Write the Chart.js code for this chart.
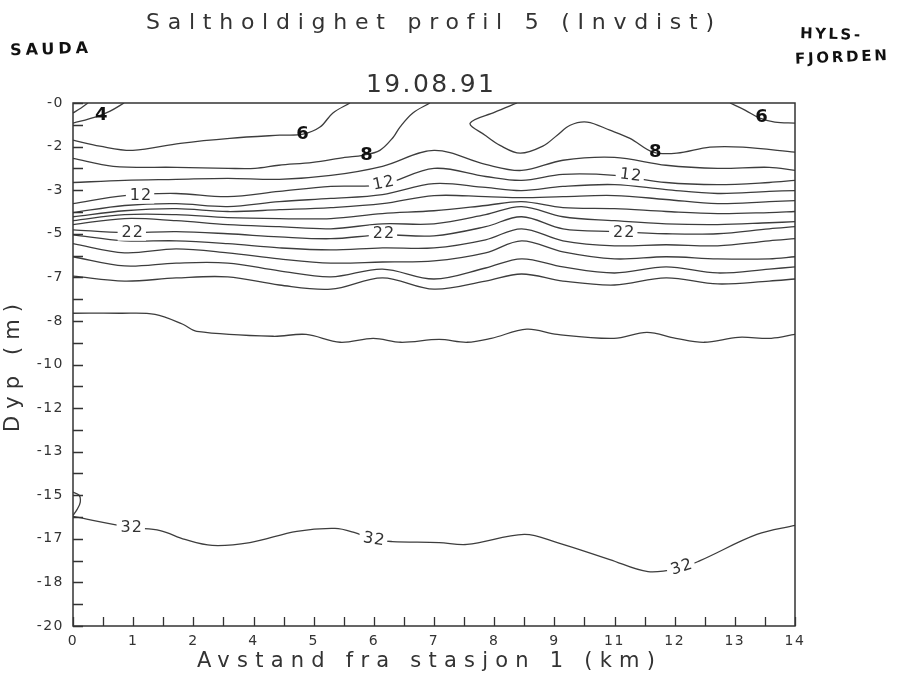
<!DOCTYPE html>
<html>
<head>
<meta charset="utf-8">
<title>Saltholdighet profil 5</title>
<script src="https://cdn.jsdelivr.net/npm/chart.js@4.4.1/dist/chart.umd.min.js"></script>
<style>
  body { margin: 0; background: #fff; }
  #wrap { width: 904px; height: 679px; position: relative; }
</style>
</head>
<body>
<div id="wrap"><canvas id="saltChart"></canvas></div>
<script>
//---------------------------------------------- DATA ---------------------------------------------------
// distance along the section (km) used by the layered contours 10..30
const gridKm = [0, 1, 2, 3, 4, 5, 6, 7, 8, 8.7, 9.5, 10.5, 11.5, 12.5, 13.5, 14];

// depth (m) of each isohaline at gridKm
const s10 = [3.04, 2.96, 2.92, 2.88, 2.92, 2.77, 2.42, 1.81, 2.35, 2.58, 2.19, 2.08, 2.38, 2.5, 2.46, 2.58];
const s12 = [3.85, 3.54, 3.46, 3.58, 3.38, 3.19, 3.12, 2.5, 2.81, 2.96, 2.73, 2.77, 3.04, 3.12, 3.04, 2.96];
const s14 = [4.19, 3.92, 3.85, 3.96, 3.77, 3.65, 3.5, 3.08, 3.23, 3.35, 3.19, 3.12, 3.31, 3.46, 3.38, 3.35];
const s16 = [4.35, 4.12, 4.04, 4.15, 4.08, 4.0, 3.85, 3.54, 3.58, 3.62, 3.58, 3.54, 3.69, 3.85, 3.77, 3.73];
const s18 = [4.5, 4.27, 4.27, 4.38, 4.42, 4.42, 4.23, 4.12, 3.92, 3.77, 4.0, 4.04, 4.15, 4.23, 4.19, 4.15];
const s20 = [4.65, 4.42, 4.5, 4.65, 4.73, 4.81, 4.62, 4.62, 4.27, 3.96, 4.35, 4.5, 4.62, 4.65, 4.58, 4.54];
const s22 = [4.85, 4.96, 4.92, 5.0, 5.12, 5.19, 5.04, 5.08, 4.73, 4.35, 4.81, 4.92, 5.0, 5.0, 4.81, 4.73];
const s24 = [5.04, 5.27, 5.27, 5.38, 5.54, 5.62, 5.54, 5.54, 5.23, 4.81, 5.27, 5.46, 5.42, 5.46, 5.27, 5.19];
const s26 = [5.38, 5.73, 5.58, 5.73, 5.96, 6.12, 6.08, 6.04, 5.73, 5.27, 5.69, 5.96, 5.88, 5.96, 5.96, 5.88];
const s28 = [5.88, 6.23, 6.12, 6.12, 6.42, 6.65, 6.35, 6.73, 6.31, 5.96, 6.27, 6.5, 6.27, 6.5, 6.35, 6.27];
const s30 = [6.62, 6.81, 6.69, 6.65, 6.96, 7.12, 6.69, 7.12, 6.81, 6.54, 6.81, 6.96, 6.69, 6.92, 6.81, 6.73];

// contours that run into the surface or the edges keep their own km positions
const s2Km = [0, 0.15, 0.29];
const s2Dep = [0.38, 0.2, 0];
const s4Km = [0, 0.43, 0.72, 0.99];
const s4Dep = [0.77, 0.54, 0.31, 0];
const s6aKm = [0, 0.52, 1.16, 2.08, 3.04, 4.01, 4.46, 4.79, 5.04, 5.37];
const s6aDep = [1.42, 1.65, 1.81, 1.54, 1.35, 1.23, 1.19, 0.92, 0.38, 0];
const s6bKm = [12.74, 13.03, 13.32, 13.61, 14];
const s6bDep = [0, 0.27, 0.58, 0.73, 0.77];
const s8aKm = [0, 0.78, 2.0, 3.01, 3.53, 3.99, 4.65, 5.27, 5.62, 5.95, 6.21, 6.34, 6.59, 6.92];
const s8aDep = [2.12, 2.42, 2.46, 2.5, 2.5, 2.38, 2.27, 2.08, 2.0, 1.81, 1.31, 0.92, 0.38, 0];
const s8bKm = [8.61, 8.18, 7.7, 7.99, 8.28, 8.67, 9.11, 9.39, 9.64, 9.97, 10.41, 10.8, 11.25, 11.71, 12.35, 12.99, 14];
const s8bDep = [0, 0.35, 0.77, 1.23, 1.62, 1.92, 1.65, 1.23, 0.85, 0.73, 1.04, 1.35, 1.88, 1.92, 1.69, 1.69, 1.88];
const s31Km = [0, 0.91, 1.59, 2.13, 2.4, 3.88, 4.52, 5.18, 5.82, 6.36, 7.1, 7.64, 8.11, 8.8, 9.39, 10.49, 11.13, 11.69, 12.24, 12.9, 13.54, 14];
const s31Dep = [8.04, 8.04, 8.08, 8.46, 8.73, 8.92, 8.85, 9.15, 9.0, 9.15, 9.04, 9.15, 9.0, 8.65, 8.85, 9.0, 8.77, 9.0, 9.15, 8.96, 9.0, 8.85];
const hookKm = [0, 0.12, 0.14, 0.08, 0];
const hookDep = [14.88, 15.0, 15.27, 15.54, 15.77];
const s32Km = [0, 1.12, 1.69, 2.17, 2.7, 3.43, 4.34, 5.08, 5.45, 5.82, 6.19, 7.1, 7.64, 8.75, 9.39, 10.41, 11.15, 11.79, 12.16, 13.26, 14];
const s32Dep = [15.81, 16.23, 16.35, 16.69, 16.92, 16.81, 16.38, 16.27, 16.42, 16.69, 16.77, 16.81, 16.88, 16.5, 16.81, 17.46, 17.92, 17.77, 17.5, 16.5, 16.15];

// contour labels (first five are the hand-written ones)
const labelText = ["4", "6", "6", "8", "8", "12", "12", "12", "22", "22", "22", "32", "32", "32"];
const labelKm = [0.56, 4.46, 13.36, 5.7, 11.3, 1.3, 6.01, 10.8, 1.14, 6.01, 10.67, 1.12, 5.82, 11.79];
const labelDep = [0.46, 1.19, 0.54, 2.0, 1.88, 3.54, 3.08, 2.77, 4.96, 5.0, 4.96, 16.23, 16.69, 17.77];
const handWritten = 5;

// axes: 12 labelled steps with a minor tick between, labels rounded like the plotter did
const xMax = 14;
const yMin = -20;
const xTickVals = Array.from({ length: 25 }, (_, i) => (i * xMax) / 24);
const yTickVals = Array.from({ length: 25 }, (_, i) => yMin + (i * -yMin) / 24);

//---------------------------------------------- HELPERS ---------------------------------------------------
const LINE = "#3d3d3d";
const FONT = '"DejaVu Sans", sans-serif';

function contour(km, dep) {
  return {
    data: km.map((x, i) => ({ x: x, y: -dep[i] })),
    borderColor: LINE,
    borderWidth: 1.3,
    pointRadius: 0,
    tension: 0.35,
    fill: false,
  };
}

// draw text stretched by letter spacing to a given width
function spaced(ctx, text, cx, cy, width, font, angle) {
  ctx.save();
  ctx.font = font;
  ctx.letterSpacing = "0px";
  const base = ctx.measureText(text).width;
  const sp = text.length > 1 ? (width - base) / (text.length - 1) : 0;
  ctx.letterSpacing = sp + "px";
  ctx.translate(cx, cy);
  if (angle) ctx.rotate(angle);
  ctx.textAlign = "left";
  ctx.textBaseline = "middle";
  ctx.fillText(text, -width / 2, 0);
  ctx.restore();
}

//---------------------------------------------- PLUGIN ---------------------------------------------------
const plotterLook = {
  id: "plotterLook",
  beforeDraw(chart) {
    chart.ctx.letterSpacing = "1.5px";
  },
  afterDatasetsDraw(chart) {
    const ctx = chart.ctx;
    const xs = chart.scales.x;
    const ys = chart.scales.y;
    const angles = [0, 0, 0, 0, 0, 0, -0.2, 0.12, 0, 0, 0, 0, 0.15, -0.3];
    labelText.forEach((t, i) => {
      const px = xs.getPixelForValue(labelKm[i]);
      const py = ys.getPixelForValue(-labelDep[i]);
      ctx.save();
      ctx.letterSpacing = "1px";
      if (i < handWritten) {
        ctx.font = "bold 18px " + FONT;
        ctx.fillStyle = "#111";
        ctx.textAlign = "center";
        ctx.textBaseline = "middle";
        ctx.fillText(t, px, py);
      } else {
        ctx.translate(px, py);
        ctx.rotate(angles[i]);
        ctx.font = "16px " + FONT;
        const w = ctx.measureText(t).width + 6;
        ctx.fillStyle = "#fff";
        ctx.fillRect(-w / 2, -8, w, 16);
        ctx.fillStyle = "#333";
        ctx.textAlign = "center";
        ctx.textBaseline = "middle";
        ctx.fillText(t, 1, 0);
      }
      ctx.restore();
    });
  },
  afterDraw(chart) {
    const ctx = chart.ctx;
    const a = chart.chartArea;
    const xs = chart.scales.x;
    const ys = chart.scales.y;
    ctx.save();
    ctx.strokeStyle = "#333";
    ctx.lineWidth = 1.5;
    ctx.strokeRect(a.left, a.top, a.right - a.left, a.bottom - a.top);
    ctx.lineWidth = 1.3;
    ctx.beginPath();
    yTickVals.forEach((v) => {
      const y = Math.round(ys.getPixelForValue(v)) + 0.5;
      ctx.moveTo(a.left, y);
      ctx.lineTo(a.left + 10, y);
    });
    xTickVals.forEach((v) => {
      const x = Math.round(xs.getPixelForValue(v)) + 0.5;
      ctx.moveTo(x, a.bottom);
      ctx.lineTo(x, a.bottom - 9);
    });
    ctx.stroke();

    ctx.fillStyle = "#333";
    spaced(ctx, "Saltholdighet profil 5 (Invdist)", 430, 23, 568, "22px " + FONT);
    spaced(ctx, "19.08.91", 430, 85, 128, "25px " + FONT);
    spaced(ctx, "Avstand fra stasjon 1 (km)", 426, 662, 458, "21px " + FONT);
    spaced(ctx, "Dyp (m)", 14, 368, 128, "21px " + FONT, -Math.PI / 2);

    ctx.fillStyle = "#111";
    spaced(ctx, "SAUDA", 49, 50, 78, "bold 16px " + FONT, -0.03);
    spaced(ctx, "HYLS-", 830, 35, 60, "bold 15px " + FONT, 0.03);
    spaced(ctx, "FJORDEN", 841, 58, 92, "bold 15px " + FONT, -0.04);
    ctx.restore();
    ctx.letterSpacing = "0px";
  },
};

//---------------------------------------------- CHART ---------------------------------------------------
const saltCTX = document.getElementById("saltChart");

const dataSalt = {
  datasets: [
    contour(s2Km, s2Dep),
    contour(s4Km, s4Dep),
    contour(s6aKm, s6aDep),
    contour(s6bKm, s6bDep),
    contour(s8aKm, s8aDep),
    contour(s8bKm, s8bDep),
    contour(gridKm, s10),
    contour(gridKm, s12),
    contour(gridKm, s14),
    contour(gridKm, s16),
    contour(gridKm, s18),
    contour(gridKm, s20),
    contour(gridKm, s22),
    contour(gridKm, s24),
    contour(gridKm, s26),
    contour(gridKm, s28),
    contour(gridKm, s30),
    contour(s31Km, s31Dep),
    contour(hookKm, hookDep),
    contour(s32Km, s32Dep),
  ],
};

const configSalt = {
  type: "line",
  data: dataSalt,
  options: {
    responsive: true,
    maintainAspectRatio: false,
    animation: false,
    layout: {
      padding: { top: 103, right: 109, left: 0, bottom: 0 },
    },
    plugins: {
      legend: { display: false },
      tooltip: { enabled: false },
    },
    scales: {
      x: {
        type: "linear",
        min: 0,
        max: xMax,
        grid: { display: false, drawTicks: false },
        border: { display: false },
        afterBuildTicks: (s) => {
          s.ticks = xTickVals.map((v) => ({ value: v }));
        },
        afterFit: (s) => {
          s.height = 53;
        },
        ticks: {
          autoSkip: false,
          maxRotation: 0,
          padding: 7,
          color: "#333",
          font: { family: "DejaVu Sans", size: 14 },
          callback: (v, i) => (i % 2 === 0 ? String(Math.round(v)) : ""),
        },
      },
      y: {
        type: "linear",
        min: yMin,
        max: 0,
        grid: { display: false, drawTicks: false },
        border: { display: false },
        afterBuildTicks: (s) => {
          s.ticks = yTickVals.map((v) => ({ value: v }));
        },
        afterFit: (s) => {
          s.width = 73;
        },
        ticks: {
          autoSkip: false,
          padding: 9,
          color: "#333",
          font: { family: "DejaVu Sans", size: 14 },
          callback: (v, i) => (i % 2 === 0 ? "-" + Math.round(Math.abs(v)) : ""),
        },
      },
    },
  },
  plugins: [plotterLook],
};

const saltChart = new Chart(saltCTX, configSalt);
</script>
</body>
</html>
